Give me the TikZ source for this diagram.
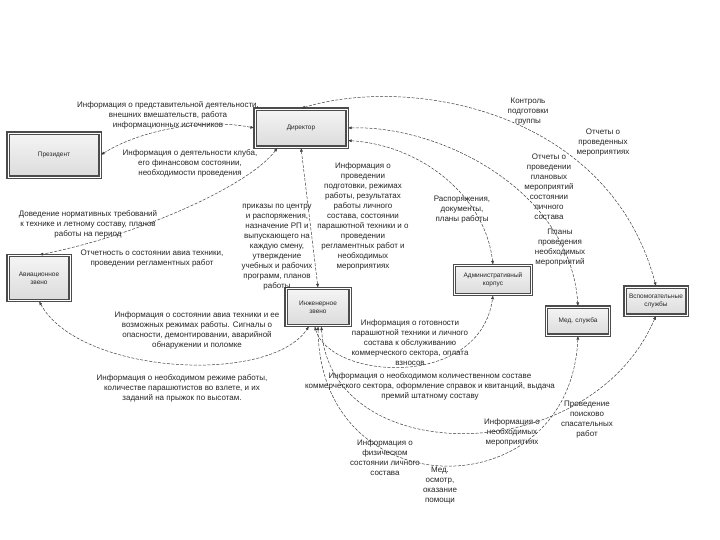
\documentclass[tikz,border=0pt]{standalone}
\usepackage{fontspec}
\setmainfont{Liberation Sans}
\usetikzlibrary{arrows.meta}

\tikzset{
    unit/.style={draw=black!70, line width=1.3pt, double=white, double distance=0.5pt,
        top color=black!4, bottom color=black!14, align=center,
        font=\fontsize{6.5}{8}\selectfont, text=black!85, inner sep=1pt},
    flow/.style={draw=black!75, line width=0.5pt, dash pattern=on 3pt off 1.5pt,
        {Latex[length=4pt,width=3pt]}-{Latex[length=4pt,width=3pt]}},
    note/.style={align=center, font=\fontsize{8}{10}\selectfont, text=black!85, inner sep=0pt}
}

\begin{document}
\begin{tikzpicture}[x=1pt, y=-1pt]
    \useasboundingbox[fill=white] (0, 0) rectangle (720, 540);

    % draw units
    \node[unit, minimum width=92pt, minimum height=44pt] (pres) at (54, 155) {Президент};
    \node[unit, minimum width=92pt, minimum height=38pt] (dir) at (301, 128) {Директор};
    \node[unit, minimum width=62pt, minimum height=45pt] (avia) at (39, 278) {Авиационное\\звено};
    \node[unit, minimum width=64pt, minimum height=37pt] (eng) at (318, 307) {Инженерное\\звено};
    \node[unit, minimum width=77pt, minimum height=29pt] (adm) at (493, 280) {Административный\\корпус};
    \node[unit, minimum width=63pt, minimum height=28pt] (med) at (578, 321) {Мед. служба};
    \node[unit, minimum width=62pt, minimum height=28pt] (aux) at (656, 301) {Вспомогательные\\службы};

    % draw connectors
    \draw[flow] (pres.east) .. controls (140, 130) and (205, 118) .. (dir.west);
    \draw[flow] (dir.north) .. controls (410, 75) and (610, 110) .. (aux.north);
    \draw[flow] (dir.east) .. controls (440, 125) and (570, 190) .. (med.north);
    \draw[flow] (dir.-15) .. controls (420, 145) and (485, 195) .. (adm.north);
    \draw[flow] (dir.south) -- (eng.north);
    \draw[flow] (dir.-140) .. controls (250, 185) and (140, 235) .. (avia.north);
    \draw[flow] (avia.south) .. controls (80, 375) and (270, 385) .. (eng.-115);
    \draw[flow] (eng.-100) .. controls (330, 380) and (480, 390) .. (adm.south);
    \draw[flow] (eng.-80) .. controls (330, 470) and (590, 470) .. (aux.south);
    \draw[flow] (eng.-90) .. controls (320, 510) and (570, 510) .. (med.south);

    % draw texts
    \node[note] (tPresIn) at (168, 115) {Информация о представительной деятельности,\\внешних вмешательств, работа\\информационных источников};
    \node[note] (tPresOut) at (190, 163) {Информация о деятельности клуба,\\его финансовом состоянии,\\необходимости проведения};
    \node[note] (tAviaIn) at (88, 224) {Доведение нормативных требований\\к технике и летному составу, планов\\работы на период};
    \node[note] (tAviaOut) at (152, 259) {Отчетность о состоянии авиа техники,\\проведении регламентных работ};
    \node[note] (tEngIn) at (277, 247) {приказы по центру\\и распоряжения,\\назначение РП и\\выпускающего на\\каждую смену,\\утверждение\\учебных и рабочих\\программ, планов\\работы};
    \node[note] (tEngOut) at (363, 216) {Информация о\\проведении\\подготовки, режимах\\работы, результатах\\работы личного\\состава, состоянии\\парашютной техники и о\\проведении\\регламентных работ и\\необходимых\\мероприятиях};
    \node[note] (tAuxIn) at (528, 112) {Контроль\\подготовки\\группы};
    \node[note] (tAuxOut) at (603, 143) {Отчеты о\\проведенных\\мероприятиях};
    \node[note] (tMedOut) at (549, 187) {Отчеты о\\проведении\\плановых\\мероприятий\\состоянии\\личного\\состава};
    \node[note] (tAdmIn) at (462, 210) {Распоряжения,\\документы,\\планы работы};
    \node[note] (tMedIn) at (560, 248) {Планы\\проведения\\необходимых\\мероприятий};
    \node[note] (tAviaEng) at (197, 330) {Информация о состоянии авиа техники и ее\\возможных режимах работы. Сигналы о\\опасности, демонтировании, аварийной\\обнаружении и поломке};
    \node[note] (tEngAvia) at (182, 388) {Информация о необходимом режиме работы,\\количестве парашютистов во взлете, и их\\заданий на прыжок по высотам.};
    \node[note] (tEngAdm) at (410, 343) {Информация о готовности\\парашютной техники и личного\\состава к обслуживанию\\коммерческого сектора, оплата\\взносов};
    \node[note] (tAdmEng) at (430, 386) {Информация о необходимом количественном составе\\коммерческого сектора, оформление справок и квитанций, выдача\\премий штатному составу};
    \node[note] (tAuxEng) at (587, 420) {Проведение\\поисково\\спасательных\\работ};
    \node[note] (tAuxNeed) at (512, 432) {Информация о\\необходимых\\мероприятиях};
    \node[note] (tMedState) at (385, 458) {Информация о\\физическом\\состоянии личного\\состава};
    \node[note] (tMedHelp) at (440, 486) {Мед.\\осмотр,\\оказание\\помощи};
\end{tikzpicture}
\end{document}
